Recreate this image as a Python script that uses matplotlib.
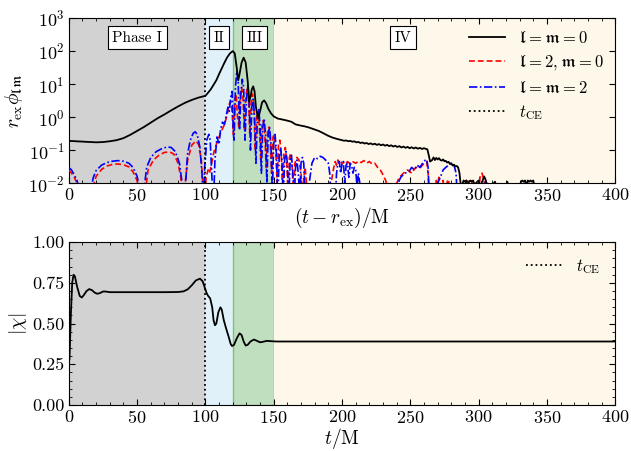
import matplotlib
matplotlib.use("Agg")
import matplotlib.pyplot as plt
from matplotlib.ticker import MultipleLocator, FormatStrFormatter, NullLocator, LogLocator

plt.rcParams.update({
    "mathtext.fontset": "cm",
    "font.family": "serif",
    "font.serif": ["cmr10", "DejaVu Serif"],
    "axes.formatter.use_mathtext": True,
    "font.size": 12,
    "axes.unicode_minus": True,
})

# ---- phase boundaries ----
t_ce = 100.0
phase_edges = [0, 100, 120, 150, 400]
phase_colors = ["#d2d2d2", "#e1f1fa", "#bfdfbf", "#fef8ea"]
phase_names = ["Phase I", "II", "III", "IV"]
phase_label_t = [50, 110, 136, 245]

# ---- l = m = 0 scalar mode ----
t00 = [0, 5, 10, 15, 20, 25, 30, 35, 40, 45, 50, 55, 60, 65, 70, 75, 80, 85, 90, 95, 100,
       102, 104, 106, 108, 110, 112, 114, 116, 118, 120, 121.5, 123, 124, 125, 126.5, 128,
       129.5, 131, 132, 133, 134, 135, 136, 137, 138.5, 140, 141.5, 143, 144.5, 146, 148,
       150, 153, 156, 160, 163, 166, 170, 173, 176, 180, 183, 186, 190, 193, 196,
       200, 201.5, 203, 204.5, 206, 207.5, 209, 210.5, 212, 213.5, 215, 216.5, 218, 219.5,
       221, 222.5, 224, 225.5, 227, 228.5, 230, 231.5, 233, 234.5, 236, 237.5, 239, 240.5,
       242, 243.5, 245, 246.5, 248, 249.5, 251, 252.5, 254, 255.5, 257, 258.5, 260, 261.5,
       262.5, 263.5, 264.5, 266, 267, 268, 269, 270, 271, 272, 273, 274, 275, 276, 277, 278,
       279, 280, 281, 282, 283, 284, 285, 286, 287, 288, 289, 290, 291, 292, 293, 294, 295,
       296, 297, 299, 300, 301, 303, 304, 305, 306, 309, 312, 313, 320, 321, 322, 330, 331,
       332, 333, 334, 335, 336, 337, 338, 339, 340, 341, 400]
phi00 = [0.19, 0.185, 0.18, 0.175, 0.172, 0.175, 0.185, 0.2, 0.23, 0.29, 0.38, 0.5, 0.68,
         0.92, 1.2, 1.6, 2.1, 2.7, 3.3, 3.9, 4.4,
         5.5, 7, 9.5, 13, 20, 30, 45, 65, 85, 100, 85, 30, 13, 20, 45, 63,
         45, 12, 3, 4, 7, 8.5, 6, 2, 0.9, 1.5, 2.8, 3.2, 2.6, 1.8, 1.3,
         1.05, 0.9, 0.85, 0.78, 0.72, 0.6, 0.55, 0.52, 0.48, 0.42, 0.38, 0.33, 0.27, 0.24, 0.22,
         0.200, 0.192, 0.196, 0.186, 0.190, 0.180, 0.184, 0.172, 0.176, 0.164, 0.170, 0.158,
         0.164, 0.152, 0.160, 0.148, 0.156, 0.144, 0.152, 0.140, 0.148, 0.136, 0.144, 0.132,
         0.140, 0.128, 0.136, 0.124, 0.132, 0.120, 0.128, 0.117, 0.125, 0.114, 0.122, 0.112,
         0.120, 0.110, 0.117, 0.108, 0.114, 0.108,
         0.105, 0.07, 0.045, 0.05, 0.06, 0.05, 0.058, 0.052, 0.057, 0.05, 0.048, 0.052, 0.046,
         0.047, 0.042, 0.044, 0.038, 0.04, 0.034, 0.036, 0.032, 0.033, 0.03, 0.02, 0.008,
         0.009, 0.012, 0.011, 0.012, 0.008, 0.011, 0.012, 0.011, 0.012, 0.009, 0.011, 0.012,
         0.008, 0.012, 0.016, 0.013, 0.009, 0.008, 0.011, 0.008, 0.008, 0.011, 0.008, 0.008,
         0.011, 0.012, 0.011, 0.012, 0.008, 0.012, 0.011, 0.012, 0.011, 0.012, 0.008, 0.005]

# ---- l = 2, m = 0 mode ----
t20 = [0, 2, 4, 6, 8, 10, 14, 17, 20, 24, 28, 32, 36, 40, 44, 47, 50, 52, 54, 56, 58, 62,
       66, 70, 74, 77, 80, 82, 83.5, 85, 87, 90, 93, 95, 97, 98.5, 99.5, 100.5, 102, 103, 104,
       106, 108, 110, 112, 114, 116, 117.5, 118.5, 119.5, 120.5, 121.5, 122.5, 123.5, 124.5,
       125.5, 126.5, 127.5, 128.5, 129.5, 130.5, 131.5, 132.5, 133.5, 134.5, 135.5, 136.5,
       137.5, 138.5, 139.5, 140.5, 141.5, 142.5, 143.5, 144.5, 145.5, 146.5, 147.5, 148.5,
       149.5, 150.5, 151.5, 152.5, 153.5, 154.5, 155.5, 156.5, 157.5, 158.5, 159.5, 160.5,
       161.5, 162.5, 163.5, 164.5, 165.5, 167, 168.5, 170, 171, 172, 173, 174, 175, 178, 180,
       182, 190, 192, 194, 195, 196, 197, 198, 199, 200, 202, 203, 204, 206, 208, 210, 212,
       214, 216, 218, 220, 222, 224, 226, 228, 230, 232, 233, 234, 237, 239, 242, 245, 248,
       251, 254, 257, 260, 262, 263, 264, 268, 269, 270, 271, 272, 274, 275, 277, 278, 279,
       290, 291, 293, 295, 296, 300, 301, 302.5, 304, 305, 400]
phi20 = [0.025, 0.02, 0.015, 0.01, 0.005, 0.003, 0.003, 0.006, 0.016, 0.026, 0.033, 0.037,
         0.038, 0.036, 0.031, 0.022, 0.012, 0.005, 0.002, 0.005, 0.025, 0.05,
         0.07, 0.085, 0.088, 0.075, 0.04, 0.015, 0.003, 0.008, 0.05, 0.14, 0.19, 0.15, 0.05,
         0.005, 0.002, 0.015, 0.025, 0.02, 0.03,
         0.08, 0.15, 0.25, 0.4, 0.6, 1.2, 2.5, 3.0, 1.5, 0.3, 3, 5, 1, 0.5,
         5, 8, 4, 0.4, 4, 7, 5, 0.3, 3, 5, 2, 0.1,
         1, 1.5, 0.5, 0.05, 0.6, 0.8, 0.3, 0.03, 0.35, 0.5, 0.2, 0.02,
         0.25, 0.3, 0.1, 0.01, 0.15, 0.2, 0.08, 0.005, 0.08, 0.12, 0.05, 0.004,
         0.06, 0.08, 0.03, 0.004, 0.04, 0.06, 0.05, 0.02, 0.004, 0.015, 0.03, 0.01, 0.003,
         0.003, 0.006,
         0.003, 0.003, 0.01, 0.03, 0.045, 0.035, 0.05, 0.04, 0.048, 0.038, 0.046, 0.04, 0.045,
         0.038, 0.044, 0.04, 0.046,
         0.042, 0.048, 0.04, 0.045, 0.038, 0.04, 0.03, 0.025, 0.018, 0.012, 0.008, 0.003,
         0.003, 0.008, 0.015, 0.02, 0.025,
         0.02, 0.03, 0.028, 0.04, 0.045, 0.02, 0.003, 0.003, 0.012, 0.01, 0.015, 0.008, 0.012,
         0.003, 0.011, 0.013, 0.003,
         0.003, 0.012, 0.011, 0.013, 0.003, 0.003, 0.015, 0.02, 0.012, 0.003, 0.003]

# ---- l = m = 2 mode ----
t22 = [0, 2, 4, 6, 8, 10, 13, 16, 18, 20, 24, 28, 32, 36, 40, 44, 47, 50, 52, 53.5, 55, 57,
       60, 64, 68, 72, 75, 78, 81, 83, 84, 85.5, 87, 89, 91, 92.5, 94, 96, 97.5, 98.5, 99.5,
       101, 102.5, 103.5, 105, 106, 107, 108.5, 110, 111, 112.5, 114, 115, 116.5, 117.5,
       118.5, 119.5, 120.5, 121, 122, 123, 124, 125, 126, 127, 128, 129, 130, 131, 132, 133,
       134, 135, 136, 137, 138, 139, 140, 141, 142, 143, 144, 145, 146, 147, 148, 149, 150,
       151, 152, 153, 154, 155, 156, 157, 158, 159, 160, 161, 162, 163, 164, 165, 166, 167,
       168, 169, 170, 171, 172, 173, 174, 176, 178, 180, 182, 184, 186, 188, 190, 191, 192,
       195, 196, 197, 198, 199, 200, 201, 202, 203, 204, 205, 206, 207, 208, 209, 210, 211,
       212, 213, 214, 238, 240, 243, 246, 249, 251, 253, 255, 257, 259, 261, 262, 263, 264,
       268, 270, 272, 274, 276, 278, 280, 282, 283.5, 284.5, 304, 305, 306, 307, 400]
phi22 = [0.03, 0.025, 0.018, 0.012, 0.006, 0.003, 0.003, 0.006, 0.015, 0.024, 0.035, 0.042,
         0.046, 0.048, 0.046, 0.04, 0.03, 0.016, 0.006, 0.002, 0.006, 0.03,
         0.06, 0.09, 0.11, 0.125, 0.12, 0.09, 0.04, 0.01, 0.002, 0.01, 0.08, 0.2, 0.32, 0.36,
         0.3, 0.12, 0.02, 0.003, 0.03,
         0.2, 0.3, 0.2, 0.01, 0.003, 0.05, 0.25, 0.15, 0.4, 0.7, 0.6, 1.0, 2.0, 1.5,
         4, 6, 0.3, 0.2, 8, 25, 12, 0.4, 5, 14, 8, 0.2, 3, 9, 4, 0.1,
         2, 3.5, 1, 0.04, 0.8, 1.8, 0.6, 0.02, 0.5, 0.9, 0.3, 0.01, 0.3, 0.5, 0.15, 0.005, 0.15,
         0.3, 0.08, 0.003, 0.06, 0.12, 0.05, 0.003, 0.05, 0.09, 0.04, 0.003, 0.04, 0.07, 0.02,
         0.003, 0.03, 0.05,
         0.02, 0.004, 0.04, 0.06, 0.04, 0.005, 0.003, 0.01, 0.04, 0.06, 0.055, 0.065, 0.06,
         0.05, 0.04, 0.02, 0.003,
         0.003, 0.02, 0.04, 0.045, 0.02, 0.04, 0.045, 0.01, 0.035, 0.04, 0.015, 0.04, 0.035,
         0.02, 0.03, 0.025, 0.008,
         0.02, 0.01, 0.003, 0.003, 0.008, 0.015, 0.02, 0.022, 0.03, 0.025, 0.035, 0.03, 0.04,
         0.05, 0.052, 0.03, 0.003,
         0.003, 0.01, 0.015, 0.025, 0.03, 0.035, 0.04, 0.035, 0.02, 0.003, 0.003, 0.011, 0.012,
         0.003, 0.003]

# ---- dimensionless spin |chi| ----
t_chi = [0.5, 1.5, 2.5, 3.5, 4.5, 6, 8, 9.5, 11, 13, 15, 17, 19, 21, 23, 25, 27, 30, 40, 50,
         60, 70, 80, 84, 87, 90, 93, 96, 98, 100, 101, 102, 103.5, 105, 106, 107, 108, 109.5,
         111, 112, 113.5, 115, 117, 118.5, 119.5, 121, 123, 125, 126.5, 128, 129.5, 131, 133,
         135.5, 137.5, 140, 142, 145, 148, 152, 200, 300, 400]
chi = [0.28, 0.55, 0.75, 0.80, 0.79, 0.73, 0.67, 0.66, 0.675, 0.70, 0.712, 0.705, 0.69,
       0.683, 0.688, 0.697, 0.697, 0.693, 0.693, 0.693, 0.693, 0.693, 0.694, 0.698, 0.71,
       0.735, 0.765, 0.776, 0.76, 0.71, 0.685, 0.67, 0.655, 0.6, 0.52, 0.49, 0.50, 0.57,
       0.60, 0.585, 0.52, 0.475, 0.42, 0.375, 0.362, 0.37, 0.41, 0.44, 0.43, 0.39, 0.365,
       0.37, 0.39, 0.402, 0.395, 0.385, 0.388, 0.394, 0.392, 0.39, 0.39, 0.39, 0.39]


def shade_phases(ax):
    for i, c in enumerate(phase_colors):
        if i == 2:
            ax.axvspan(phase_edges[i], phase_edges[i + 1], facecolor=c,
                       edgecolor="#7fbf7f", lw=1.0, zorder=0)
        else:
            ax.axvspan(phase_edges[i], phase_edges[i + 1], facecolor=c,
                       edgecolor="none", zorder=0)


def style_axis(ax):
    ax.tick_params(which="both", direction="in", top=True, right=True)
    ax.tick_params(which="major", length=4, width=0.8, labelsize=13, pad=3)
    ax.tick_params(which="minor", length=2, width=0.6)
    ax.xaxis.set_major_locator(MultipleLocator(50))
    ax.xaxis.set_minor_locator(MultipleLocator(10))
    ax.set_xlim(0, 400)


fig = plt.figure(figsize=(6.31, 4.51), dpi=100)
ax1 = fig.add_axes([0.109, 0.594, 0.866, 0.366])
ax2 = fig.add_axes([0.109, 0.102, 0.866, 0.361])

# ---- top: scalar field multipoles ----
shade_phases(ax1)
ax1.plot(t00, phi00, color="black", lw=1.3, label=r"$\mathfrak{l}=\mathfrak{m}=0$", zorder=4)
ax1.plot(t20, phi20, color="red", lw=1.2, ls=(0, (3.5, 1.8)),
         label=r"$\mathfrak{l}=2,\mathfrak{m}=0$", zorder=3)
ax1.plot(t22, phi22, color="blue", lw=1.2, ls=(0, (5, 1.5, 1, 1.5)),
         label=r"$\mathfrak{l}=\mathfrak{m}=2$", zorder=3)
ax1.axvline(t_ce, color="black", ls=":", lw=1.3, label=r"$t_{\rm CE}$", zorder=5)
ax1.set_yscale("log")
ax1.set_ylim(1e-2, 1e3)
ax1.yaxis.set_major_locator(LogLocator(base=10, numticks=10))
ax1.yaxis.set_minor_locator(NullLocator())
style_axis(ax1)
ax1.set_xlabel(r"$(t-r_{\rm ex})/\mathrm{M}$", fontsize=14, labelpad=1)
ax1.set_ylabel(r"$r_{\rm ex}\phi_{\mathfrak{lm}}$", fontsize=14, labelpad=2)
for name, tx in zip(phase_names, phase_label_t):
    ax1.text(tx, 250, name, ha="center", va="center", fontsize=11,
             bbox=dict(boxstyle="square,pad=0.3", fc="white", ec="black", lw=0.8), zorder=6)
ax1.legend(loc="upper right", frameon=False, fontsize=12, handlelength=2.2,
           borderaxespad=0.3, labelspacing=0.45)

# ---- bottom: spin magnitude ----
shade_phases(ax2)
ax2.plot(t_chi, chi, color="black", lw=1.3, zorder=4)
ax2.axvline(t_ce, color="black", ls=":", lw=1.3, label=r"$t_{\rm CE}$", zorder=5)
ax2.set_ylim(0, 1)
ax2.yaxis.set_major_locator(MultipleLocator(0.25))
ax2.yaxis.set_minor_locator(MultipleLocator(0.05))
ax2.yaxis.set_major_formatter(FormatStrFormatter("%.2f"))
style_axis(ax2)
ax2.set_xlabel(r"$t/\mathrm{M}$", fontsize=14, labelpad=0)
ax2.set_ylabel(r"$|\chi|$", fontsize=14, labelpad=2)
ax2.legend(loc="upper right", frameon=False, fontsize=12, handlelength=2.2,
           borderaxespad=0.5)

fig.savefig("out.png", dpi=100)
